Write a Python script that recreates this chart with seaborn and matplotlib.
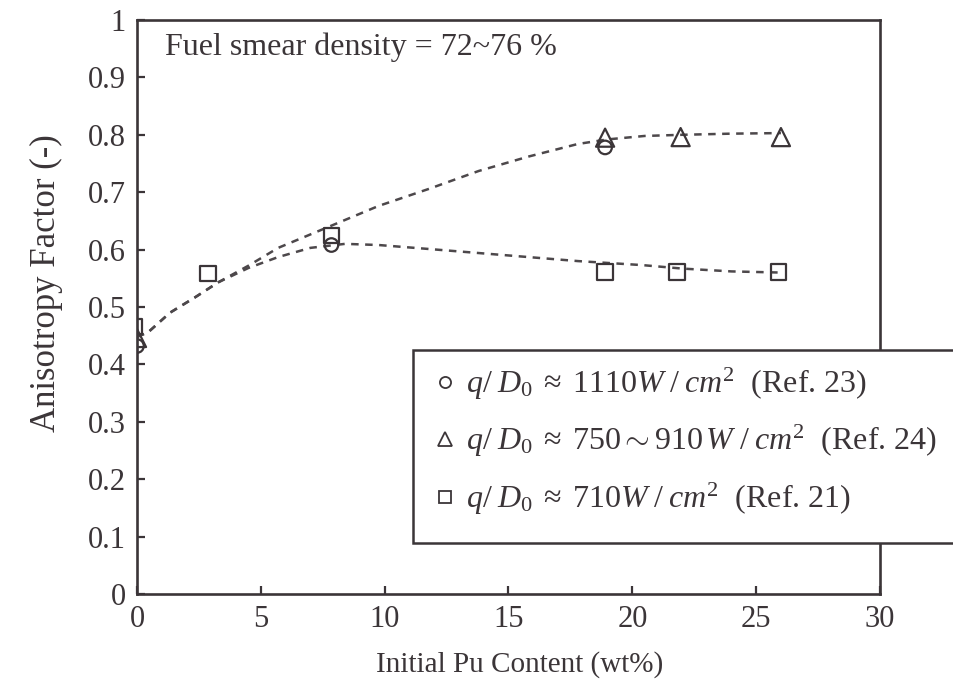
import numpy as np
import pandas as pd
import matplotlib
matplotlib.use("Agg")
import matplotlib.pyplot as plt
from matplotlib.lines import Line2D
from matplotlib.patches import Rectangle
import seaborn as sns

# ---- data ----
circle_x = [0, 7.85, 18.9]
circle_y = [0.432, 0.608, 0.778]
triangle_x = [0, 18.9, 21.95, 26.0]
triangle_y = [0.446, 0.795, 0.796, 0.796]
square_x = [-0.1, 2.87, 7.85, 18.9, 21.8, 25.9]
square_y = [0.466, 0.559, 0.625, 0.561, 0.561, 0.561]

upper_fit_x = [0, 0.45, 1.33, 2.35, 3.28, 4.5, 5.7, 7.7, 9.75, 11.8, 13.8, 15.8, 17.8, 19.0, 20.5, 22.0, 24.0, 26.0]
upper_fit_y = [0.448, 0.456, 0.49, 0.517, 0.543, 0.572, 0.603, 0.639, 0.676, 0.706, 0.737, 0.762, 0.784, 0.792, 0.798, 0.800, 0.802, 0.803]
lower_fit_x = [0, 0.45, 1.33, 2.35, 3.28, 4.5, 5.7, 7.0, 8.4, 9.75, 11.8, 13.8, 15.8, 17.8, 20.4, 22.0, 24.0, 26.0]
lower_fit_y = [0.448, 0.456, 0.49, 0.517, 0.543, 0.568, 0.587, 0.603, 0.610, 0.608, 0.601, 0.594, 0.587, 0.580, 0.573, 0.567, 0.562, 0.560]

legend_labels = [
    r"$\mathit{q/\;D_0\;\approx\;1110W\;/\;cm^2}$  (Ref. 23)",
    r"$\mathit{q/\;D_0\;\approx\;750\sim910\,W\;/\;cm^2}$  (Ref. 24)",
    r"$\mathit{q/\;D_0\;\approx\;710W\;/\;cm^2}$  (Ref. 21)",
]
x_ticks = [0, 5, 10, 15, 20, 25, 30]
y_ticks = [0, 0.1, 0.2, 0.3, 0.4, 0.5, 0.6, 0.7, 0.8, 0.9, 1]
y_tick_labels = ["0", "0.1", "0.2", "0.3", "0.4", "0.5", "0.6", "0.7", "0.8", "0.9", "1"]

# ---- style ----
sns.set_theme(style="ticks")
plt.rcParams["font.family"] = ["Liberation Serif", "DejaVu Serif"]
plt.rcParams["mathtext.fontset"] = "custom"
plt.rcParams["mathtext.rm"] = "Liberation Serif"
plt.rcParams["mathtext.it"] = "Liberation Serif:italic"
plt.rcParams["mathtext.bf"] = "Liberation Serif:bold"

ink = "#3b3538"
line_col = "#4d484b"

fig = plt.figure(figsize=(9.54, 6.83), dpi=100)
ax = fig.add_axes([137 / 954, 1 - 594 / 683, (880 - 137) / 954, (594 - 20) / 683])

# fitted trend curves
for fx, fy in [(upper_fit_x, upper_fit_y), (lower_fit_x, lower_fit_y)]:
    sns.lineplot(x=fx, y=fy, ax=ax, color=line_col, lw=1.8,
                 linestyle=(0, (3.0, 2.6)), sort=False, estimator=None)

# data points
sns.scatterplot(x=circle_x, y=circle_y, ax=ax, marker="o", s=95,
                facecolor="none", edgecolor=ink, linewidth=1.6, zorder=5)
sns.scatterplot(x=triangle_x, y=triangle_y, ax=ax, marker="^", s=170,
                facecolor="none", edgecolor=ink, linewidth=1.6, zorder=5)
sns.scatterplot(x=square_x, y=square_y, ax=ax, marker="s", s=120,
                facecolor="none", edgecolor=ink, linewidth=1.6, zorder=5)

ax.set_xlim(0, 30)
ax.set_ylim(0, 1)
ax.set_xticks(x_ticks)
ax.set_xticklabels([str(t) for t in x_ticks])
ax.set_yticks(y_ticks)
ax.set_yticklabels(y_tick_labels)
ax.tick_params(direction="in", length=6, width=1.6, colors=ink,
               labelsize=22, pad=8)
for sp in ax.spines.values():
    sp.set_visible(True)
    sp.set_linewidth(1.9)
    sp.set_color(ink)

ax.set_xlabel("Initial Pu Content (wt%)", fontsize=21, color=ink)
ax.xaxis.set_label_coords((520 - 137) / 743, -(651 - 594) / 574)
ax.set_ylabel("Anisotropy Factor (-)", fontsize=25, color=ink)
ax.yaxis.set_label_coords((63 - 137) / 743, (594 - 283) / 574)

ax.text(0.038, 0.953, "Fuel smear density = 72~76 %", transform=ax.transAxes,
        fontsize=23, color=ink, va="center", ha="left")

# legend frame (extends past the right edge, as in the reference)
fig.patches.append(Rectangle((413 / 954, 1 - 543 / 683), (970 - 413) / 954, (543 - 350) / 683,
                             transform=fig.transFigure, fc="white", ec=ink,
                             lw=1.8, zorder=3))

handles = [
    Line2D([], [], marker="o", ls="none", mfc="none", mec=ink, ms=8, mew=1.3),
    Line2D([], [], marker="^", ls="none", mfc="none", mec=ink, ms=9.5, mew=1.3),
    Line2D([], [], marker="s", ls="none", mfc="none", mec=ink, ms=8, mew=1.3),
]
leg = fig.legend(handles, legend_labels, loc="upper left",
                 bbox_to_anchor=(437 / 954, 1 - 366 / 683),
                 bbox_transform=fig.transFigure,
                 fontsize=23, frameon=False,
                 handlelength=0.5, handletextpad=0.41,
                 borderpad=0, labelspacing=0.66, borderaxespad=0)
leg.set_zorder(6)
for t in leg.get_texts():
    t.set_color(ink)

fig.savefig("out.png", dpi=100, facecolor="white")
